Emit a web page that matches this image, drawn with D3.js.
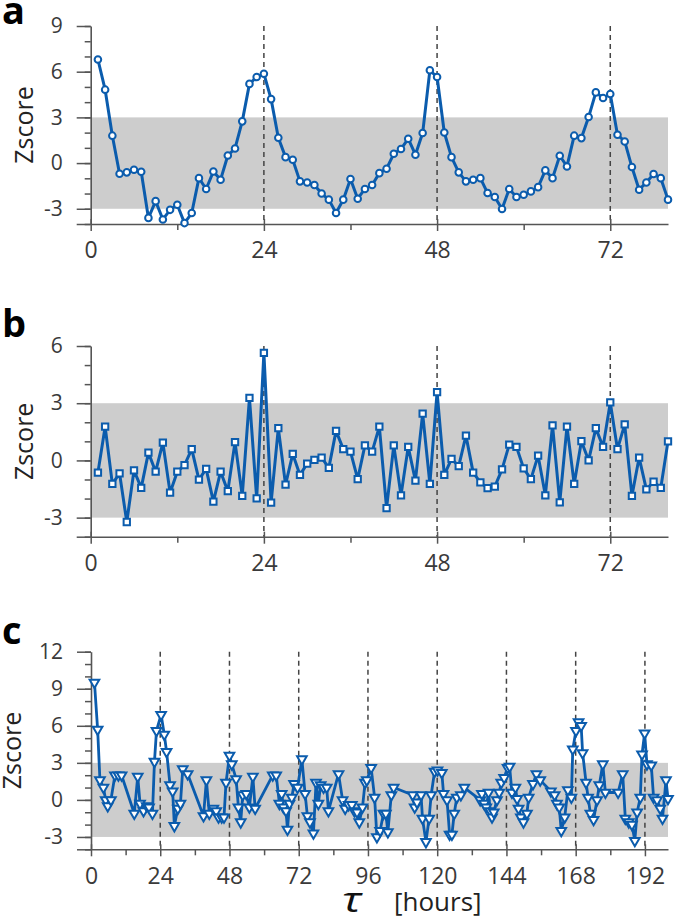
<!DOCTYPE html>
<html>
<head>
<meta charset="utf-8">
<script src="https://cdn.jsdelivr.net/npm/d3@7"></script>
<style>
  html, body { margin: 0; padding: 0; background: #fff; }
  svg { display: block; }
  text { font-family: "Open Sans", "Noto Sans", sans-serif; }
</style>
</head>
<body>
<div id="chart"></div>
<script>
// ---------------- DATA ----------------
const aHours = d3.range(1, 81);
const aValues = [
  6.8, 4.82, 1.8, -0.7, -0.61, -0.44, -0.57, -3.6, -2.5, -3.7,
  -3.07, -2.74, -3.94, -3.28, -0.99, -1.7, -0.55, -1.09, 0.5, 0.96,
  2.74, 5.2, 5.65, 5.87, 4.2, 1.66, 0.39, 0.22, -1.2, -1.27,
  -1.44, -2.0, -2.4, -3.28, -2.4, -1.05, -2.34, -1.7, -1.44, -0.66,
  -0.37, 0.61, 0.92, 1.6, 0.55, 1.97, 6.09, 5.65, 2.01, 0.39,
  -0.61, -1.2, -1.09, -0.99, -1.97, -2.23, -3.02, -1.7, -2.23, -2.08,
  -1.86, -1.58, -0.48, -0.99, 0.48, -0.22, 1.8, 1.64, 3.02, 4.64,
  4.27, 4.53, 1.86, 1.42, -0.26, -1.75, -1.27, -0.72, -0.99, -2.4
];

const bHours = d3.range(1, 81);
const bValues = [
  -0.64, 1.77, -1.23, -0.68, -3.23, -0.52, -1.44, 0.41, -0.59, 0.93,
  -1.69, -0.59, -0.25, 0.59, -1.01, -0.44, -2.16, -0.59, -1.61, 0.96,
  -1.86, 3.28, -1.99, 5.64, -2.21, 1.69, -1.27, 0.34, -0.76, -0.17,
  0.03, 0.15, -0.39, 1.55, 0.59, 0.46, -0.98, 0.79, 0.46, 1.77,
  -2.5, 0.79, -1.83, 0.71, -1.06, 2.45, -1.23, 3.58, -0.76, 0.08,
  -0.3, 1.3, -0.64, -1.15, -1.45, -1.37, -0.47, 0.83, 0.71, -0.42,
  -0.98, 0.25, -1.83, 1.84, -2.2, 1.77, -1.23, 1.01, 0, 1.69,
  0.71, 3.04, 0.59, 1.89, -1.86, 0.15, -1.52, -1.12, -1.44, 1.0
];

const cHours = [
  1.2, 2.3, 3.1, 4.3, 5.1, 5.8, 6.9, 8.3, 9.5, 10.6,
  15.0, 16.2, 17.0, 18.2, 19.3, 20.1, 21.3, 22.0, 22.7, 24.3,
  25.4, 26.2, 27.4, 28.3, 28.9, 30.1, 31.0, 31.8, 33.5, 39.0,
  40.0, 41.0, 42.4, 43.4, 44.2, 45.3, 46.1, 46.8, 48.0, 48.8,
  50.3, 51.1, 51.9, 52.6, 53.8, 54.9, 56.1, 56.9, 63.0, 64.2,
  65.3, 66.1, 66.7, 67.6, 68.1, 68.8, 69.6, 70.4, 71.6, 73.1,
  74.2, 75.0, 75.9, 77.1, 78.0, 78.8, 79.6, 80.6, 81.7, 82.3,
  85.8, 87.2, 88.1, 89.3, 90.4, 91.3, 92.2, 93.0, 94.1, 95.0,
  95.6, 97.1, 98.3, 99.1, 100.2, 101.4, 102.2, 102.9, 104.1, 104.9,
  111.5, 112.2, 113.0, 114.4, 114.9, 116.1, 117.2, 117.9, 119.1, 120.1,
  121.6, 122.2, 123.4, 124.3, 125.1, 125.9, 126.8, 128.2, 129.4, 134.9,
  135.5, 136.3, 137.0, 137.8, 138.4, 139.0, 139.6, 140.7, 141.5, 142.2,
  143.2, 144.4, 145.1, 145.9, 147.1, 147.7, 148.2, 149.0, 149.9, 151.1,
  151.7, 153.2, 154.4, 155.7, 159.4, 160.7, 161.5, 162.3, 163.0, 164.2,
  165.3, 166.5, 167.0, 168.1, 169.0, 169.9, 170.4, 171.6, 172.3, 173.1,
  174.2, 175.4, 176.2, 177.4, 178.3, 182.7, 184.3, 185.2, 186.4, 187.5,
  188.5, 189.3, 190.4, 191.0, 191.9, 192.7, 194.2, 195.0, 196.2, 197.3,
  198.1, 199.3, 200.0
];
const cValues = [
  9.5, 5.7, 1.6, 1.0, 0.0, -0.5, 0.0, 2.0, 2.0, 2.0,
  -1.1, 1.9, -0.3, -0.9, -0.5, -0.6, -1.1, 3.1, 5.6, 6.9,
  5.3, 3.9, 1.2, 0.7, -2.1, -0.7, -0.3, 2.5, 2.1, -1.3,
  1.6, -1.1, -0.7, -0.9, -1.4, -1.4, -1.4, 1.4, 3.6, 2.9,
  1.7, -0.6, -1.8, 0.4, 0.5, -0.6, 1.9, -0.7, 2.0, 2.0,
  -0.3, 0.5, -0.6, -0.9, -2.4, -0.3, 0.2, 1.3, 1.0, 3.3,
  0.5, -1.3, -1.8, -2.7, 1.4, -0.3, 1.2, 1.0, 1.0, -0.9,
  2.1, 0.0, -0.7, -0.4, -0.4, -0.9, -1.0, -1.8, -0.6, 1.4,
  1.6, 2.6, 0.2, -3.0, -2.5, -1.1, -1.1, -2.6, 0.4, 1.0,
  0.4, -0.6, -0.2, 0.4, -1.5, -3.4, -1.5, 0.4, 2.3, 2.4,
  2.2, 0.5, 0.0, -2.8, -2.8, -1.1, 0.2, 0.4, 1.0, 0.0,
  0.5, -0.3, -0.6, 0.6, -0.9, -1.4, -1.0, 0.0, 0.6, 1.4,
  1.8, 2.6, 2.7, 0.6, 1.0, 0.1, -0.7, -1.4, -1.8, -1.1,
  0.2, 1.3, 2.1, 1.6, 0.7, 0.4, -0.3, -0.6, -2.5, -1.4,
  0.8, 0.2, 4.1, 5.6, 6.3, 6.0, 3.8, 1.4, 0.2, -1.1,
  -1.6, 0.0, 1.2, 2.9, 0.6, 0.6, 2.1, -1.5, -1.8, -2.0,
  -3.3, -1.0, 0.2, 3.7, 5.4, 2.9, 2.8, 0.2, 0.0, -0.7,
  -1.5, 1.6, 0.1
];

const abXTicks = [0, 24, 48, 72];
const abXMinor = [12, 36, 60];
const abDashed = [24, 48, 72];
const cXTicks = [0, 24, 48, 72, 96, 120, 144, 168, 192];
const cXMinor = [12, 36, 60, 84, 108, 132, 156, 180];
const cDashed = [24, 48, 72, 96, 120, 144, 168, 192];
const aYTicks = [-3, 0, 3, 6, 9];
const bYTicks = [-3, 0, 3, 6];
const cYTicks = [-3, 0, 3, 6, 9, 12];
const bandRange = [-3, 3];
const panelLetters = ["a", "b", "c"];
const yTitle = "Zscore";
const xTitleSymbol = "τ";
const xTitleUnit = "[hours]";

// ---------------- DRAW ----------------
const W = 675, H = 919;
const BLUE = "#0b5cad";
const AXIS = "#555";
const TXT = "#3a3a3a";

const svg = d3.select("#chart").append("svg")
  .attr("width", W).attr("height", H);

function panel(cfg) {
  const x = d3.scaleLinear().domain(cfg.xDomain).range([cfg.x0, cfg.x1]);
  const y = d3.scaleLinear().domain(cfg.yDomain).range([cfg.yBot, cfg.yTop]);
  const g = svg.append("g");
  const pts = cfg.hours.map((h, i) => [h, cfg.values[i]]);

  // band
  g.append("rect")
    .attr("x", x(cfg.xDomain[0])).attr("width", x(cfg.xDomain[1]) - x(cfg.xDomain[0]))
    .attr("y", y(bandRange[1])).attr("height", y(bandRange[0]) - y(bandRange[1]))
    .attr("fill", "#cdcdcd");

  // dashed verticals
  g.selectAll("line.dash").data(cfg.dashed).join("line")
    .attr("x1", d => x(d)).attr("x2", d => x(d))
    .attr("y1", y(cfg.yDomain[1])).attr("y2", y(cfg.yDomain[0]))
    .attr("stroke", "#444").attr("stroke-width", 1.5)
    .attr("stroke-dasharray", "5,4");

  // y axis minor
  const yMinorVals = d3.range(cfg.yDomain[0], cfg.yDomain[1] + 1);
  g.append("g").attr("transform", `translate(${cfg.x0},0)`)
    .call(d3.axisLeft(y).tickValues(yMinorVals).tickSize(6).tickFormat(""))
    .call(s => s.select(".domain").remove())
    .call(s => s.selectAll("line").attr("stroke", AXIS).attr("stroke-width", 1.5));
  // y axis major (bottom value drawn as axis extension with no label)
  g.append("g").attr("transform", `translate(${cfg.x0},0)`)
    .call(d3.axisLeft(y).tickValues([cfg.yDomain[0]].concat(cfg.yTicks)).tickSize(14)
      .tickSizeOuter(0).tickPadding(14)
      .tickFormat(d => d === cfg.yDomain[0] ? "" : d))
    .call(s => s.select(".domain").attr("stroke", AXIS).attr("stroke-width", 1.6))
    .call(s => s.selectAll("line").attr("stroke", AXIS).attr("stroke-width", 1.5))
    .call(s => s.selectAll("text").attr("fill", TXT).attr("font-size", 21)
      .attr("font-family", "'Open Sans', sans-serif"));

  // x axis minor
  g.append("g").attr("transform", `translate(0,${cfg.yBot})`)
    .call(d3.axisBottom(x).tickValues(cfg.xMinor).tickSize(6).tickFormat(""))
    .call(s => s.select(".domain").remove())
    .call(s => s.selectAll("line").attr("stroke", AXIS).attr("stroke-width", 1.5));
  // x axis major
  g.append("g").attr("transform", `translate(0,${cfg.yBot})`)
    .call(d3.axisBottom(x).tickValues(cfg.xTicks).tickSize(7).tickSizeOuter(0).tickPadding(11))
    .call(s => s.select(".domain").attr("stroke", AXIS).attr("stroke-width", 1.6))
    .call(s => s.selectAll(".tick line").attr("y1", -5).attr("stroke", AXIS).attr("stroke-width", 1.5))
    .call(s => s.selectAll("text").attr("fill", TXT).attr("font-size", 23)
      .attr("font-family", "'Open Sans', sans-serif"));

  // line
  g.append("path").datum(pts)
    .attr("d", d3.line().x(d => x(d[0])).y(d => y(d[1])))
    .attr("fill", "none").attr("stroke", BLUE)
    .attr("stroke-width", cfg.lineWidth).attr("stroke-linejoin", "round");

  // markers
  g.selectAll("path.mk").data(pts).join("path")
    .attr("class", "mk")
    .attr("d", d3.symbol().type(cfg.symbol).size(cfg.symbolSize))
    .attr("transform", d => `translate(${x(d[0])},${y(d[1])}) rotate(${cfg.rotate || 0})`)
    .attr("fill", "#fff").attr("stroke", BLUE).attr("stroke-width", cfg.mkStroke);

  // y title
  svg.append("text")
    .attr("transform", `translate(${cfg.titleX},${(cfg.yTop + cfg.yBot) / 2}) rotate(-90)`)
    .attr("text-anchor", "middle").attr("font-size", 25).attr("fill", "#222")
    .text(yTitle);

  // panel letter
  svg.append("text")
    .attr("x", 2).attr("y", cfg.letterY)
    .attr("font-size", 38).attr("font-weight", "bold").attr("fill", "#000")
    .text(cfg.letter);
}

panel({
  letter: panelLetters[0], letterY: 24, titleX: 33,
  hours: aHours, values: aValues,
  xDomain: [0, 80], yDomain: [-4, 9],
  x0: 90.7, x1: 668, yTop: 26, yBot: 224,
  xTicks: abXTicks, xMinor: abXMinor, dashed: abDashed, yTicks: aYTicks,
  symbol: d3.symbolCircle, symbolSize: 34, mkStroke: 2, lineWidth: 3
});

panel({
  letter: panelLetters[1], letterY: 337, titleX: 33,
  hours: bHours, values: bValues,
  xDomain: [0, 80], yDomain: [-4, 6],
  x0: 90.7, x1: 668, yTop: 346, yBot: 536.7,
  xTicks: abXTicks, xMinor: abXMinor, dashed: abDashed, yTicks: bYTicks,
  symbol: d3.symbolSquare, symbolSize: 40, mkStroke: 2, lineWidth: 3
});

panel({
  letter: panelLetters[2], letterY: 644, titleX: 21,
  hours: cHours, values: cValues,
  xDomain: [0, 200], yDomain: [-4, 12],
  x0: 91, x1: 668, yTop: 651.7, yBot: 849.3,
  xTicks: cXTicks, xMinor: cXMinor, dashed: cDashed, yTicks: cYTicks,
  symbol: d3.symbolTriangle, symbolSize: 40, rotate: 180, mkStroke: 2, lineWidth: 2.8
});

// x title
svg.append("text")
  .attr("transform", "translate(342,912) scale(1.35,1)")
  .attr("font-family", "'DejaVu Serif', serif").attr("font-style", "italic")
  .attr("font-size", 34).attr("fill", "#111")
  .text(xTitleSymbol);
svg.append("text")
  .attr("x", 394).attr("y", 911)
  .attr("font-size", 26).attr("fill", "#222")
  .text(xTitleUnit);
</script>
</body>
</html>
